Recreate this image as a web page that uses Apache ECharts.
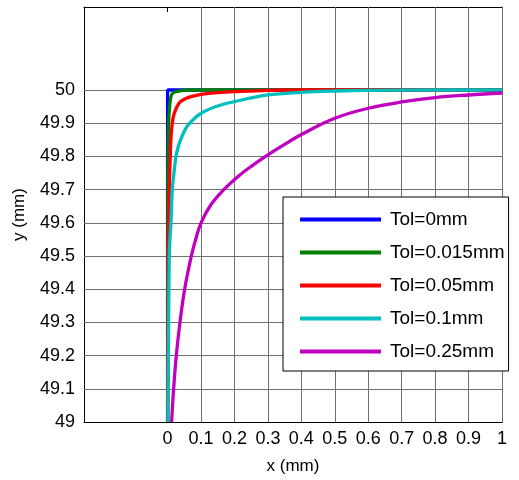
<!DOCTYPE html>
<html>
  <head>
    <meta charset="utf-8">
    <title>Tol curves</title>
    <script src="https://cdn.jsdelivr.net/npm/echarts@6/dist/echarts.min.js"></script>
    <style>
      body { margin: 0; background: #fff; }
      #chart { width: 519px; height: 480px; }
    </style>
  </head>
  <body>
    <div id="chart"></div>
    <script>
      // tick values
      var xTicks = [0, 0.1, 0.2, 0.3, 0.4, 0.5, 0.6, 0.7, 0.8, 0.9, 1];
      var yTicks = [49, 49.1, 49.2, 49.3, 49.4, 49.5, 49.6, 49.7, 49.8, 49.9, 50];

      var tolNames = ['Tol=0mm', 'Tol=0.015mm', 'Tol=0.05mm', 'Tol=0.1mm', 'Tol=0.25mm'];
      var tolColors = ['#0000ff', '#008000', '#ff0000', '#00bfbf', '#bf00bf'];

      var blueX = [0, 0, 1];
      var blueY = [49, 50, 50];

      var greenX = [0, 0.001, 0.003, 0.006, 0.01, 0.015, 0.025, 0.04, 0.06, 0.1, 1];
      var greenY = [49, 49.7, 49.9, 49.95, 49.98, 49.99, 49.995, 49.998, 50, 50, 50];

      var redX = [0, 0.002, 0.005, 0.008, 0.01, 0.014, 0.02, 0.034, 0.05, 0.07, 0.1, 0.15, 0.2, 0.3, 0.4, 1];
      var redY = [49, 49.5, 49.7, 49.8, 49.855, 49.9, 49.93, 49.96, 49.972, 49.98, 49.987, 49.992, 49.995, 49.999, 50, 50];

      var cyanX = [0.001, 0.003, 0.005, 0.007, 0.01, 0.014, 0.019, 0.025, 0.032, 0.041, 0.052, 0.066, 0.1, 0.15, 0.2, 0.3, 0.4, 0.5, 0.6, 0.8, 1];
      var cyanY = [49, 49.3, 49.5, 49.55, 49.6, 49.7, 49.75, 49.8, 49.83, 49.855, 49.88, 49.9, 49.93, 49.952, 49.965, 49.985, 49.993, 49.997, 49.999, 50, 50];

      var magX = [0.012, 0.018, 0.026, 0.037, 0.051, 0.071, 0.084, 0.1, 0.13, 0.168, 0.21, 0.25, 0.293, 0.34, 0.4, 0.5, 0.6, 0.7, 0.8, 0.9, 1];
      var magY = [49, 49.1, 49.2, 49.3, 49.4, 49.5, 49.55, 49.6, 49.655, 49.7, 49.739, 49.77, 49.8, 49.83, 49.866, 49.915, 49.945, 49.964, 49.977, 49.985, 49.991];

      var curves = [[blueX, blueY], [greenX, greenY], [redX, redY], [cyanX, cyanY], [magX, magY]];

      function pairs(xs, ys) {
        return xs.map(function (x, i) { return [x, ys[i]]; });
      }
      function fmt(v) {
        return String(Math.round(v * 10) / 10);
      }

      var font = 'Liberation Sans, Arial, sans-serif';
      var gridColor = '#707070';

      var gridLines = [];
      xTicks.slice(1).forEach(function (v) { gridLines.push({ xAxis: v }); });
      yTicks.slice(1).forEach(function (v) { gridLines.push({ yAxis: v }); });

      var series = [{
        type: 'line',
        data: [],
        silent: true,
        z: 1,
        markLine: {
          z: 1,
          silent: true,
          symbol: 'none',
          label: { show: false },
          lineStyle: { color: gridColor, width: 1, type: 'solid' },
          data: gridLines
        }
      }];
      curves.forEach(function (c, i) {
        series.push({
          name: tolNames[i],
          type: 'line',
          data: pairs(c[0], c[1]),
          showSymbol: false,
          smooth: i === 0 ? false : 0.4,
          z: 2 + i,
          lineStyle: { color: tolColors[i], width: 3.3 },
          itemStyle: { color: tolColors[i] }
        });
      });

      var frameLine = { show: true, onZero: false, lineStyle: { color: '#000', width: 1 } };

      var chart = echarts.init(document.getElementById('chart'));
      chart.setOption({
        animation: false,
        backgroundColor: '#fff',
        grid: { left: 84, top: 7, right: 17, bottom: 55, containLabel: false },
        xAxis: [{
          type: 'value', min: -0.25, max: 1, position: 'bottom',
          axisLine: frameLine,
          axisTick: { show: true, inside: true, length: 5, customValues: xTicks, lineStyle: { color: '#000' } },
          axisLabel: { customValues: xTicks, formatter: fmt, margin: 8, color: '#000', fontSize: 18, fontFamily: font },
          splitLine: { show: false },
          name: 'x (mm)', nameLocation: 'middle', nameGap: 36,
          nameTextStyle: { color: '#000', fontSize: 17, fontFamily: font }
        }, {
          type: 'value', min: -0.25, max: 1, position: 'top',
          axisLine: frameLine,
          axisTick: { show: true, inside: true, length: 5, customValues: xTicks, lineStyle: { color: '#000' } },
          axisLabel: { show: false },
          splitLine: { show: false }
        }],
        yAxis: [{
          type: 'value', min: 49, max: 50.25, position: 'left',
          axisLine: frameLine,
          axisTick: { show: true, inside: true, length: 5, customValues: yTicks, lineStyle: { color: '#000' } },
          axisLabel: { customValues: yTicks, formatter: fmt, margin: 9, color: '#000', fontSize: 18, fontFamily: font },
          splitLine: { show: false },
          name: 'y (mm)', nameLocation: 'middle', nameGap: 56, nameRotate: 90,
          nameTextStyle: { color: '#000', fontSize: 17, fontFamily: font }
        }, {
          type: 'value', min: 49, max: 50.25, position: 'right',
          axisLine: frameLine,
          axisTick: { show: true, inside: true, length: 5, customValues: yTicks, lineStyle: { color: '#000' } },
          axisLabel: { show: false },
          splitLine: { show: false }
        }],
        legend: {
          z: 20,
          data: tolNames,
          orient: 'vertical',
          left: 283, top: 197,
          padding: [13, 4, 10, 17],
          itemGap: 14,
          itemWidth: 81, itemHeight: 4,
          icon: 'rect',
          backgroundColor: '#fff',
          borderColor: '#000', borderWidth: 1, borderRadius: 0,
          textStyle: { color: '#000', fontSize: 19, fontFamily: font, padding: [0, 0, 0, 4] }
        },
        series: series
      });
    </script>
  </body>
</html>
